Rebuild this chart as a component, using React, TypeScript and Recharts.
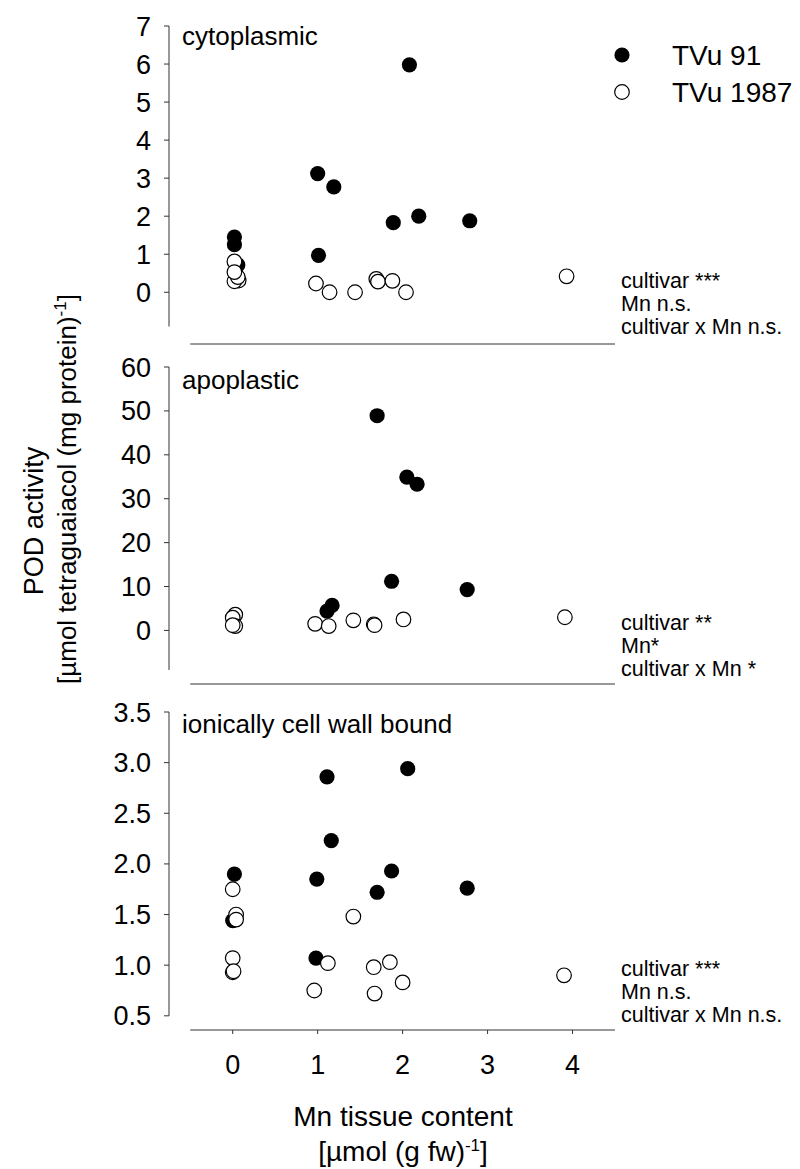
import React from 'react'
import { Legend, ReferenceLine, Scatter, ScatterChart, XAxis, YAxis } from 'recharts'

const FONT = '"Liberation Sans", Arial, Helvetica, sans-serif'
const INK = '#000'
const AXIS_INK = '#333'

const X_TICKS = [0, 1, 2, 3, 4]
const X_DOMAIN: [number, number] = [-0.75, 4.5]

// [Mn tissue content, POD activity]
const cytoTVu91: [number, number][] = [
  [0.02, 1.45], [0.02, 1.25], [0.06, 0.72], [1.0, 3.12], [1.19, 2.77],
  [1.01, 0.97], [2.08, 5.98], [1.89, 1.83], [2.19, 2.0], [2.79, 1.88],
]
const cytoTVu1987: [number, number][] = [
  [0.02, 0.81], [0.07, 0.31], [0.02, 0.29], [0.06, 0.4], [0.02, 0.53],
  [0.98, 0.23], [1.14, 0.0], [1.44, 0.0], [1.69, 0.35], [1.71, 0.28],
  [1.88, 0.3], [2.04, 0.0], [3.93, 0.42],
]
const apoTVu91: [number, number][] = [
  [1.7, 48.9], [2.05, 34.9], [2.17, 33.3], [1.87, 11.2], [2.76, 9.3],
  [1.17, 5.7], [1.11, 4.4],
]
const apoTVu1987: [number, number][] = [
  [0.03, 3.6], [0.0, 2.9], [0.03, 1.0], [0.0, 1.2], [0.97, 1.5], [1.13, 1.0],
  [1.42, 2.3], [1.66, 1.4], [1.67, 1.2], [2.01, 2.5], [3.91, 3.0],
]
const wallTVu91: [number, number][] = [
  [0.02, 1.9], [0.0, 1.44], [0.99, 1.85], [1.11, 2.86], [1.16, 2.23],
  [2.06, 2.94], [1.87, 1.93], [1.7, 1.72], [2.76, 1.76], [0.98, 1.07],
]
const wallTVu1987: [number, number][] = [
  [0.0, 1.75], [0.04, 1.5], [0.04, 1.45], [0.0, 1.07], [0.0, 0.93], [0.01, 0.94],
  [1.42, 1.48], [1.12, 1.02], [0.96, 0.75], [1.66, 0.98], [1.85, 1.03],
  [2.0, 0.83], [1.67, 0.72], [3.9, 0.9],
]

const CYTO_TICKS = [0, 1, 2, 3, 4, 5, 6, 7]
const APO_TICKS = [0, 10, 20, 30, 40, 50, 60]
const WALL_TICKS = [0.5, 1.0, 1.5, 2.0, 2.5, 3.0, 3.5]

const SERIES = ['TVu 91', 'TVu 1987']

const pts = (a: [number, number][]) => a.map(([x, y]) => ({ x, y }))

const filledDot = (p: any) => <circle cx={p.cx} cy={p.cy} r={7.6} fill={INK} />
const openDot = (p: any) => <circle cx={p.cx} cy={p.cy} r={7.3} fill="#fff" stroke={INK} strokeWidth={1.2} />

const TOP_PAD = 20
const CHART_W = 800
const Y_AXIS_W = 169
const RIGHT = 185
const TICK_FONT = 27

function LegendBox() {
  return (
    <svg width={200} height={90} style={{ overflow: 'visible' }}>
      <circle cx={22} cy={25} r={7.6} fill={INK} />
      <text x={72} y={35} fontSize={28} fontFamily={FONT} fill={INK}>{SERIES[0]}</text>
      <circle cx={22} cy={62} r={7.3} fill="#fff" stroke={INK} strokeWidth={1.2} />
      <text x={72} y={72} fontSize={28} fontFamily={FONT} fill={INK}>{SERIES[1]}</text>
    </svg>
  )
}

type PanelProps = {
  plotTop: number
  plotBottom: number
  domain: [number, number]
  ticks: number[]
  axisFrom: number
  fmt?: (v: number) => string
  filled: [number, number][]
  open: [number, number][]
  xLabels?: boolean
  legend?: boolean
}

function Panel({ plotTop, plotBottom, domain, ticks, axisFrom, fmt, filled, open, xLabels, legend }: PanelProps) {
  const xH = xLabels ? 60 : 8
  const top = plotTop - TOP_PAD
  const height = TOP_PAD + (plotBottom - plotTop) + xH
  const yTop = ticks[ticks.length - 1]
  return (
    <div style={{ position: 'absolute', left: 0, top }}>
      <ScatterChart width={CHART_W} height={height} margin={{ top: TOP_PAD, right: RIGHT, bottom: 0, left: 0 }}>
        <XAxis
          type="number"
          dataKey="x"
          domain={X_DOMAIN}
          ticks={X_TICKS}
          interval={0}
          allowDataOverflow
          height={xH}
          axisLine={false}
          tickLine={{ stroke: AXIS_INK }}
          tickSize={4}
          tickMargin={21}
          tick={xLabels ? { fill: INK, fontSize: TICK_FONT, fontFamily: FONT } : false}
        />
        <YAxis
          type="number"
          dataKey="y"
          domain={domain}
          ticks={ticks}
          interval={0}
          allowDataOverflow
          width={Y_AXIS_W}
          axisLine={false}
          tickLine={{ stroke: AXIS_INK }}
          tickSize={5}
          tickMargin={13}
          tickFormatter={fmt}
          tick={{ fill: INK, fontSize: TICK_FONT, fontFamily: FONT }}
        />
        <ReferenceLine
          segment={[{ x: X_DOMAIN[0], y: axisFrom }, { x: X_DOMAIN[0], y: yTop }]}
          stroke={AXIS_INK}
          ifOverflow="visible"
        />
        <ReferenceLine
          segment={[{ x: -0.5, y: domain[0] }, { x: X_DOMAIN[1], y: domain[0] }]}
          stroke={AXIS_INK}
          ifOverflow="visible"
        />
        <Scatter name={SERIES[0]} data={pts(filled)} fill={INK} shape={filledDot} isAnimationActive={false} />
        <Scatter name={SERIES[1]} data={pts(open)} fill="#fff" shape={openDot} isAnimationActive={false} />
        {legend && (
          <Legend
            layout="vertical"
            align="center"
            verticalAlign="middle"
            wrapperStyle={{ left: 600, top: 30 - top, width: 200, height: 90 }}
            content={() => <LegendBox />}
          />
        )}
      </ScatterChart>
    </div>
  )
}

const NOTES_TOP = ['cultivar ***', 'Mn n.s.', 'cultivar x Mn n.s.']
const NOTES_MID = ['cultivar **', 'Mn*', 'cultivar x Mn *']
const NOTES_BOT = ['cultivar ***', 'Mn n.s.', 'cultivar x Mn n.s.']

function Notes({ lines, y }: { lines: string[]; y: number }) {
  return (
    <>
      {lines.map((t, i) => (
        <text key={i} x={621} y={y + i * 23} fontSize={21.5} fontFamily={FONT} fill={INK}>{t}</text>
      ))}
    </>
  )
}

export default function App() {
  return (
    <div style={{ position: 'absolute', left: 0, top: 0, width: 800, height: 1169, background: '#fff' }}>
      <Panel plotTop={26} plotBottom={344} domain={[-1.36, 7]} ticks={CYTO_TICKS} axisFrom={-0.9}
        filled={cytoTVu91} open={cytoTVu1987} legend />
      <Panel plotTop={367} plotBottom={684} domain={[-12.2, 60]} ticks={APO_TICKS} axisFrom={-9}
        filled={apoTVu91} open={apoTVu1987} />
      <Panel plotTop={712} plotBottom={1030} domain={[0.36, 3.5]} ticks={WALL_TICKS} axisFrom={0.5}
        fmt={(v) => v.toFixed(1)} filled={wallTVu91} open={wallTVu1987} xLabels />
      <svg width={800} height={1169} style={{ position: 'absolute', left: 0, top: 0, pointerEvents: 'none' }}>
        <text x={182} y={45} fontSize={26} fontFamily={FONT} fill={INK}>cytoplasmic</text>
        <text x={182} y={389} fontSize={26} fontFamily={FONT} fill={INK}>apoplastic</text>
        <text x={182} y={733} fontSize={26} fontFamily={FONT} fill={INK}>ionically cell wall bound</text>
        <Notes lines={NOTES_TOP} y={288} />
        <Notes lines={NOTES_MID} y={630} />
        <Notes lines={NOTES_BOT} y={976} />
        <text transform="translate(43 521) rotate(-90)" textAnchor="middle" fontSize={27} fontFamily={FONT} fill={INK}>
          POD activity
        </text>
        <text transform="translate(76 489) rotate(-90)" textAnchor="middle" fontSize={26} fontFamily={FONT} fill={INK}>
          [µmol tetraguaiacol (mg  protein)<tspan dy={-10} fontSize={17}>-1</tspan><tspan dy={10}>]</tspan>
        </text>
        <text x={403} y={1126} textAnchor="middle" fontSize={28} fontFamily={FONT} fill={INK}>Mn tissue content</text>
        <text x={403} y={1161} textAnchor="middle" fontSize={28} fontFamily={FONT} fill={INK}>
          [µmol (g fw)<tspan dy={-10} fontSize={17}>-1</tspan><tspan dy={10}>]</tspan>
        </text>
      </svg>
    </div>
  )
}
